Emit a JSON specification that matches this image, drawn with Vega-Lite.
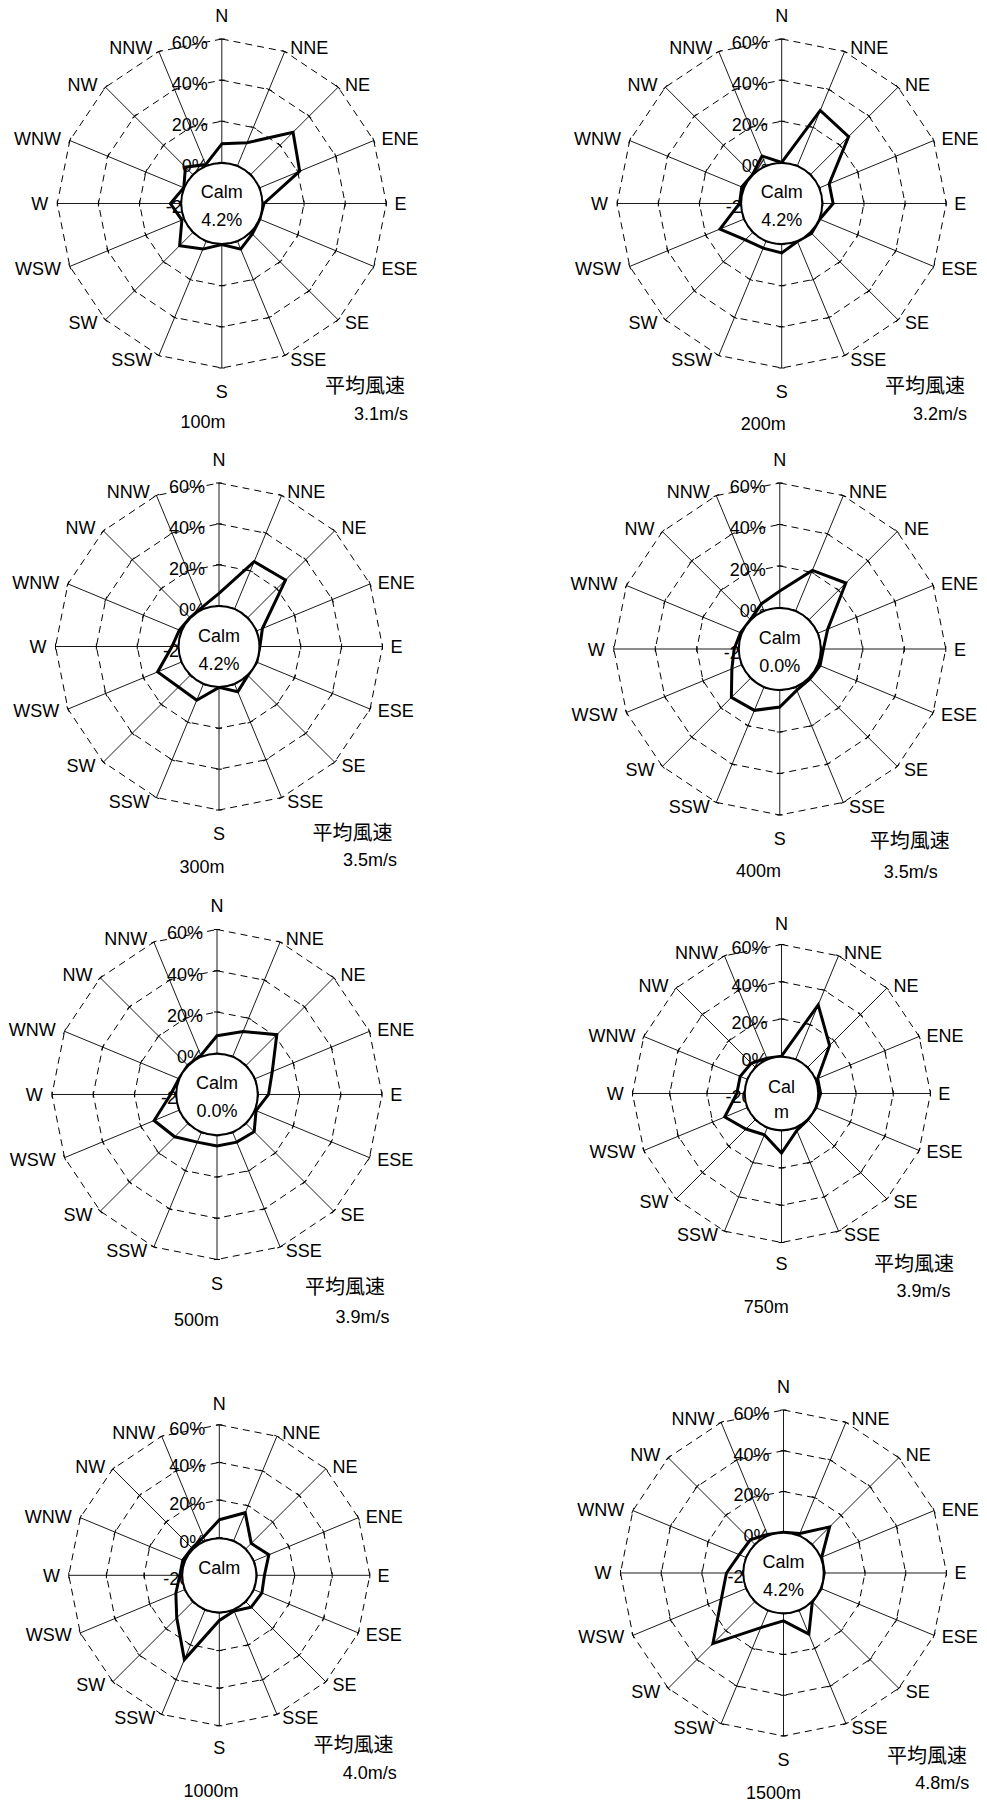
{
"$schema":"https://vega.github.io/schema/vega-lite/v6.json",
"padding":0,
"background":"white",
"config":{"view":{"stroke":null},"concat":{"spacing":0},"axis":{"disable":true},"text":{"font":"Liberation Sans","fontSize":18,"color":"#000"}},
"datasets":{
"dirs":[{"d":"N","i":0},{"d":"NNE","i":1},{"d":"NE","i":2},{"d":"ENE","i":3},{"d":"E","i":4},{"d":"ESE","i":5},{"d":"SE","i":6},{"d":"SSE","i":7},{"d":"S","i":8},{"d":"SSW","i":9},{"d":"SW","i":10},{"d":"WSW","i":11},{"d":"W","i":12},{"d":"WNW","i":13},{"d":"NW","i":14},{"d":"NNW","i":15}],
"ticks":[{"g":-20},{"g":0},{"g":20},{"g":40},{"g":60}],
"grid":[{"g":0,"i":0},{"g":0,"i":1},{"g":0,"i":2},{"g":0,"i":3},{"g":0,"i":4},{"g":0,"i":5},{"g":0,"i":6},{"g":0,"i":7},{"g":0,"i":8},{"g":0,"i":9},{"g":0,"i":10},{"g":0,"i":11},{"g":0,"i":12},{"g":0,"i":13},{"g":0,"i":14},{"g":0,"i":15},
{"g":20,"i":0},{"g":20,"i":1},{"g":20,"i":2},{"g":20,"i":3},{"g":20,"i":4},{"g":20,"i":5},{"g":20,"i":6},{"g":20,"i":7},{"g":20,"i":8},{"g":20,"i":9},{"g":20,"i":10},{"g":20,"i":11},{"g":20,"i":12},{"g":20,"i":13},{"g":20,"i":14},{"g":20,"i":15},
{"g":40,"i":0},{"g":40,"i":1},{"g":40,"i":2},{"g":40,"i":3},{"g":40,"i":4},{"g":40,"i":5},{"g":40,"i":6},{"g":40,"i":7},{"g":40,"i":8},{"g":40,"i":9},{"g":40,"i":10},{"g":40,"i":11},{"g":40,"i":12},{"g":40,"i":13},{"g":40,"i":14},{"g":40,"i":15},
{"g":60,"i":0},{"g":60,"i":1},{"g":60,"i":2},{"g":60,"i":3},{"g":60,"i":4},{"g":60,"i":5},{"g":60,"i":6},{"g":60,"i":7},{"g":60,"i":8},{"g":60,"i":9},{"g":60,"i":10},{"g":60,"i":11},{"g":60,"i":12},{"g":60,"i":13},{"g":60,"i":14},{"g":60,"i":15}],
"meta":[{"h":"100m","c1":"Calm","c2":"4.2%","ws":"3.1m/s"},{"h":"200m","c1":"Calm","c2":"4.2%","ws":"3.2m/s"},{"h":"300m","c1":"Calm","c2":"4.2%","ws":"3.5m/s"},{"h":"400m","c1":"Calm","c2":"0.0%","ws":"3.5m/s"},{"h":"500m","c1":"Calm","c2":"0.0%","ws":"3.9m/s"},{"h":"750m","c1":"Cal","c2":"m","ws":"3.9m/s"},{"h":"1000m","c1":"Calm","c2":"","ws":"4.0m/s"},{"h":"1500m","c1":"Calm","c2":"4.2%","ws":"4.8m/s"}],
"rose":[
{"h":"100m","d":"N","v":9},{"h":"100m","d":"NNE","v":12},{"h":"100m","d":"NE","v":29},{"h":"100m","d":"ENE","v":21},{"h":"100m","d":"E","v":0.5},{"h":"100m","d":"ESE","v":0},{"h":"100m","d":"SE","v":1},{"h":"100m","d":"SSE","v":4},{"h":"100m","d":"S","v":0},{"h":"100m","d":"SSW","v":4},{"h":"100m","d":"SW","v":9},{"h":"100m","d":"WSW","v":1},{"h":"100m","d":"W","v":5},{"h":"100m","d":"WNW","v":0},{"h":"100m","d":"NW","v":5},{"h":"100m","d":"NNW","v":0.5},
{"h":"200m","d":"N","v":0},{"h":"200m","d":"NNE","v":29},{"h":"200m","d":"NE","v":26},{"h":"200m","d":"ENE","v":5},{"h":"200m","d":"E","v":5},{"h":"200m","d":"ESE","v":0},{"h":"200m","d":"SE","v":0.5},{"h":"200m","d":"SSE","v":0},{"h":"200m","d":"S","v":4},{"h":"200m","d":"SSW","v":3.5},{"h":"200m","d":"SW","v":5},{"h":"200m","d":"WSW","v":12.5},{"h":"200m","d":"W","v":0.5},{"h":"200m","d":"WNW","v":1},{"h":"200m","d":"NW","v":0},{"h":"200m","d":"NNW","v":5},
{"h":"300m","d":"N","v":6},{"h":"300m","d":"NNE","v":25},{"h":"300m","d":"NE","v":26},{"h":"300m","d":"ENE","v":3},{"h":"300m","d":"E","v":0},{"h":"300m","d":"ESE","v":0},{"h":"300m","d":"SE","v":0},{"h":"300m","d":"SSE","v":4},{"h":"300m","d":"S","v":0},{"h":"300m","d":"SSW","v":8.5},{"h":"300m","d":"SW","v":8},{"h":"300m","d":"WSW","v":12.5},{"h":"300m","d":"W","v":3},{"h":"300m","d":"WNW","v":1},{"h":"300m","d":"NW","v":0},{"h":"300m","d":"NNW","v":1},
{"h":"400m","d":"N","v":8},{"h":"400m","d":"NNE","v":21},{"h":"400m","d":"NE","v":25},{"h":"400m","d":"ENE","v":5},{"h":"400m","d":"E","v":1},{"h":"400m","d":"ESE","v":1},{"h":"400m","d":"SE","v":0.5},{"h":"400m","d":"SSE","v":1.5},{"h":"400m","d":"S","v":8},{"h":"400m","d":"SSW","v":12},{"h":"400m","d":"SW","v":13},{"h":"400m","d":"WSW","v":5},{"h":"400m","d":"W","v":2},{"h":"400m","d":"WNW","v":0.5},{"h":"400m","d":"NW","v":0},{"h":"400m","d":"NNW","v":3.5},
{"h":"500m","d":"N","v":8.5},{"h":"500m","d":"NNE","v":13},{"h":"500m","d":"NE","v":21},{"h":"500m","d":"ENE","v":9},{"h":"500m","d":"E","v":5},{"h":"500m","d":"ESE","v":0.5},{"h":"500m","d":"SE","v":5.5},{"h":"500m","d":"SSE","v":5},{"h":"500m","d":"S","v":5},{"h":"500m","d":"SSW","v":5},{"h":"500m","d":"SW","v":9},{"h":"500m","d":"WSW","v":13},{"h":"500m","d":"W","v":2.5},{"h":"500m","d":"WNW","v":0},{"h":"500m","d":"NW","v":0},{"h":"500m","d":"NNW","v":0.5},
{"h":"750m","d":"N","v":0},{"h":"750m","d":"NNE","v":31.5},{"h":"750m","d":"NE","v":16.5},{"h":"750m","d":"ENE","v":1},{"h":"750m","d":"E","v":1},{"h":"750m","d":"ESE","v":0},{"h":"750m","d":"SE","v":0},{"h":"750m","d":"SSE","v":1.5},{"h":"750m","d":"S","v":12},{"h":"750m","d":"SSW","v":4},{"h":"750m","d":"SW","v":7},{"h":"750m","d":"WSW","v":13},{"h":"750m","d":"W","v":4},{"h":"750m","d":"WNW","v":4},{"h":"750m","d":"NW","v":3},{"h":"750m","d":"NNW","v":0.5},
{"h":"1000m","d":"N","v":9.5},{"h":"1000m","d":"NNE","v":16},{"h":"1000m","d":"NE","v":4},{"h":"1000m","d":"ENE","v":8.5},{"h":"1000m","d":"E","v":4},{"h":"1000m","d":"ESE","v":4.5},{"h":"1000m","d":"SE","v":4},{"h":"1000m","d":"SSE","v":0.5},{"h":"1000m","d":"S","v":4},{"h":"1000m","d":"SSW","v":28.5},{"h":"1000m","d":"SW","v":12},{"h":"1000m","d":"WSW","v":5},{"h":"1000m","d":"W","v":1},{"h":"1000m","d":"WNW","v":1},{"h":"1000m","d":"NW","v":0.5},{"h":"1000m","d":"NNW","v":2},
{"h":"1500m","d":"N","v":0},{"h":"1500m","d":"NNE","v":1},{"h":"1500m","d":"NE","v":12},{"h":"1500m","d":"ENE","v":0.3},{"h":"1500m","d":"E","v":0},{"h":"1500m","d":"ESE","v":0},{"h":"1500m","d":"SE","v":0},{"h":"1500m","d":"SSE","v":12.5},{"h":"1500m","d":"S","v":3.5},{"h":"1500m","d":"SSW","v":9},{"h":"1500m","d":"SW","v":29},{"h":"1500m","d":"WSW","v":13},{"h":"1500m","d":"W","v":8},{"h":"1500m","d":"WNW","v":3.5},{"h":"1500m","d":"NW","v":3},{"h":"1500m","d":"NNW","v":0.5}]
},
"vconcat":[
{"hconcat":[
{"width":494,"height":440,
"layer":[
{"data":{"name":"grid"},"transform":[{"calculate":"(datum.g+20)*sin(datum.i*PI/8)","as":"x"},{"calculate":"(datum.g+20)*cos(datum.i*PI/8)","as":"y"}],"mark":{"type":"line","interpolate":"linear-closed","stroke":"#000","strokeWidth":1,"strokeDash":[7,5]},"encoding":{"x":{"field":"x","type":"quantitative","scale":{"domain":[-107.87,132.38],"nice":false,"zero":false},"axis":null},"y":{"field":"y","type":"quantitative","scale":{"domain":[-115.02,98.97],"nice":false,"zero":false},"axis":null},"detail":{"field":"g"},"order":{"field":"i"}}},
{"data":{"name":"dirs"},"transform":[{"calculate":"80*sin(datum.i*PI/8)","as":"x"},{"calculate":"80*cos(datum.i*PI/8)","as":"y"}],"mark":{"type":"rule","stroke":"#000","strokeWidth":0.9},"encoding":{"x":{"field":"x","type":"quantitative"},"y":{"field":"y","type":"quantitative"},"x2":{"datum":0},"y2":{"datum":0}}},
{"data":{"name":"grid"},"transform":[{"calculate":"(datum.g+20)*sin(datum.i*PI/8)","as":"x"},{"calculate":"(datum.g+20)*cos(datum.i*PI/8)","as":"y"},{"calculate":"datum.i*22.5","as":"ang"}],"mark":{"type":"point","shape":"stroke","size":36,"strokeWidth":1,"color":"#000","opacity":1},"encoding":{"x":{"field":"x","type":"quantitative"},"y":{"field":"y","type":"quantitative"},"angle":{"field":"ang","type":"quantitative","scale":null}}},
{"data":{"name":"ticks"},"transform":[{"calculate":"datum.g+20","as":"y"},{"calculate":"datum.g+'%'","as":"lab"}],"mark":{"type":"text","align":"right","baseline":"middle","dx":-14,"dy":5},"encoding":{"x":{"datum":0,"type":"quantitative"},"y":{"field":"y","type":"quantitative"},"text":{"field":"lab"}}},
{"data":{"name":"rose"},"transform":[{"filter":"datum.h=='100m'"},{"lookup":"d","from":{"data":{"name":"dirs"},"key":"d","fields":["i"]}},{"calculate":"(datum.v+20)*sin(datum.i*PI/8)","as":"x"},{"calculate":"(datum.v+20)*cos(datum.i*PI/8)","as":"y"}],"mark":{"type":"line","interpolate":"linear-closed","stroke":"#000","strokeWidth":3,"strokeJoin":"miter"},"encoding":{"x":{"field":"x","type":"quantitative"},"y":{"field":"y","type":"quantitative"},"order":{"field":"i"}}},
{"data":{"name":"dirs"},"transform":[{"calculate":"82*sin(datum.i*PI/8)","as":"x"},{"calculate":"82*cos(datum.i*PI/8)","as":"y"}],"encoding":{"x":{"field":"x","type":"quantitative"},"y":{"field":"y","type":"quantitative"},"text":{"field":"d"}},"layer":[
{"transform":[{"filter":"datum.i>0 && datum.i<8"}],"mark":{"type":"text","align":"left","baseline":"middle","dx":4,"dy":1.5}},
{"transform":[{"filter":"datum.i>8"}],"mark":{"type":"text","align":"right","baseline":"middle","dx":-5,"dy":1.5}},
{"transform":[{"filter":"datum.i==0 || datum.i==8"},{"calculate":"91.5*cos(datum.i*PI/8)","as":"y"}],"mark":{"type":"text","align":"center","baseline":"middle","dy":1.5}}]},
{"data":{"name":"meta"},"transform":[{"filter":"datum.h=='100m'"}],"layer":[
{"mark":{"type":"point","shape":"circle","filled":true,"fill":"#fff","stroke":"#000","strokeWidth":2,"size":6590,"opacity":1},"encoding":{"x":{"datum":0,"type":"quantitative"},"y":{"datum":0,"type":"quantitative"}}},
{"mark":{"type":"text","dy":-10},"encoding":{"x":{"datum":0,"type":"quantitative"},"y":{"datum":0,"type":"quantitative"},"text":{"field":"c1"}}},
{"mark":{"type":"text","dy":18},"encoding":{"x":{"datum":0,"type":"quantitative"},"y":{"datum":0,"type":"quantitative"},"text":{"field":"c2"}}},
{"mark":{"type":"text"},"encoding":{"x":{"datum":-9.14,"type":"quantitative"},"y":{"datum":-106.7,"type":"quantitative"},"text":{"field":"h"}}},
{"mark":{"type":"text","font":"Noto Sans CJK JP","fontSize":20},"encoding":{"x":{"datum":69.6,"type":"quantitative"},"y":{"datum":-89.1,"type":"quantitative"},"text":{"value":"平均風速"}}},
{"mark":{"type":"text"},"encoding":{"x":{"datum":77.4,"type":"quantitative"},"y":{"datum":-102.9,"type":"quantitative"},"text":{"field":"ws"}}}]}
]},
{"width":493,"height":440,
"layer":[
{"data":{"name":"grid"},"transform":[{"calculate":"(datum.g+20)*sin(datum.i*PI/8)","as":"x"},{"calculate":"(datum.g+20)*cos(datum.i*PI/8)","as":"y"}],"mark":{"type":"line","interpolate":"linear-closed","stroke":"#000","strokeWidth":1,"strokeDash":[7,5]},"encoding":{"x":{"field":"x","type":"quantitative","scale":{"domain":[-139.91,99.84],"nice":false,"zero":false},"axis":null},"y":{"field":"y","type":"quantitative","scale":{"domain":[-115.02,98.97],"nice":false,"zero":false},"axis":null},"detail":{"field":"g"},"order":{"field":"i"}}},
{"data":{"name":"dirs"},"transform":[{"calculate":"80*sin(datum.i*PI/8)","as":"x"},{"calculate":"80*cos(datum.i*PI/8)","as":"y"}],"mark":{"type":"rule","stroke":"#000","strokeWidth":0.9},"encoding":{"x":{"field":"x","type":"quantitative"},"y":{"field":"y","type":"quantitative"},"x2":{"datum":0},"y2":{"datum":0}}},
{"data":{"name":"grid"},"transform":[{"calculate":"(datum.g+20)*sin(datum.i*PI/8)","as":"x"},{"calculate":"(datum.g+20)*cos(datum.i*PI/8)","as":"y"},{"calculate":"datum.i*22.5","as":"ang"}],"mark":{"type":"point","shape":"stroke","size":36,"strokeWidth":1,"color":"#000","opacity":1},"encoding":{"x":{"field":"x","type":"quantitative"},"y":{"field":"y","type":"quantitative"},"angle":{"field":"ang","type":"quantitative","scale":null}}},
{"data":{"name":"ticks"},"transform":[{"calculate":"datum.g+20","as":"y"},{"calculate":"datum.g+'%'","as":"lab"}],"mark":{"type":"text","align":"right","baseline":"middle","dx":-14,"dy":5},"encoding":{"x":{"datum":0,"type":"quantitative"},"y":{"field":"y","type":"quantitative"},"text":{"field":"lab"}}},
{"data":{"name":"rose"},"transform":[{"filter":"datum.h=='200m'"},{"lookup":"d","from":{"data":{"name":"dirs"},"key":"d","fields":["i"]}},{"calculate":"(datum.v+20)*sin(datum.i*PI/8)","as":"x"},{"calculate":"(datum.v+20)*cos(datum.i*PI/8)","as":"y"}],"mark":{"type":"line","interpolate":"linear-closed","stroke":"#000","strokeWidth":3,"strokeJoin":"miter"},"encoding":{"x":{"field":"x","type":"quantitative"},"y":{"field":"y","type":"quantitative"},"order":{"field":"i"}}},
{"data":{"name":"dirs"},"transform":[{"calculate":"82*sin(datum.i*PI/8)","as":"x"},{"calculate":"82*cos(datum.i*PI/8)","as":"y"}],"encoding":{"x":{"field":"x","type":"quantitative"},"y":{"field":"y","type":"quantitative"},"text":{"field":"d"}},"layer":[
{"transform":[{"filter":"datum.i>0 && datum.i<8"}],"mark":{"type":"text","align":"left","baseline":"middle","dx":4,"dy":1.5}},
{"transform":[{"filter":"datum.i>8"}],"mark":{"type":"text","align":"right","baseline":"middle","dx":-5,"dy":1.5}},
{"transform":[{"filter":"datum.i==0 || datum.i==8"},{"calculate":"91.5*cos(datum.i*PI/8)","as":"y"}],"mark":{"type":"text","align":"center","baseline":"middle","dy":1.5}}]},
{"data":{"name":"meta"},"transform":[{"filter":"datum.h=='200m'"}],"layer":[
{"mark":{"type":"point","shape":"circle","filled":true,"fill":"#fff","stroke":"#000","strokeWidth":2,"size":6590,"opacity":1},"encoding":{"x":{"datum":0,"type":"quantitative"},"y":{"datum":0,"type":"quantitative"}}},
{"mark":{"type":"text","dy":-10},"encoding":{"x":{"datum":0,"type":"quantitative"},"y":{"datum":0,"type":"quantitative"},"text":{"field":"c1"}}},
{"mark":{"type":"text","dy":18},"encoding":{"x":{"datum":0,"type":"quantitative"},"y":{"datum":0,"type":"quantitative"},"text":{"field":"c2"}}},
{"mark":{"type":"text"},"encoding":{"x":{"datum":-8.95,"type":"quantitative"},"y":{"datum":-107.7,"type":"quantitative"},"text":{"field":"h"}}},
{"mark":{"type":"text","font":"Noto Sans CJK JP","fontSize":20},"encoding":{"x":{"datum":69.7,"type":"quantitative"},"y":{"datum":-89.1,"type":"quantitative"},"text":{"value":"平均風速"}}},
{"mark":{"type":"text"},"encoding":{"x":{"datum":77.0,"type":"quantitative"},"y":{"datum":-102.7,"type":"quantitative"},"text":{"field":"ws"}}}]}
]}
]},
{"hconcat":[
{"width":494,"height":450,
"layer":[
{"data":{"name":"grid"},"transform":[{"calculate":"(datum.g+20)*sin(datum.i*PI/8)","as":"x"},{"calculate":"(datum.g+20)*cos(datum.i*PI/8)","as":"y"}],"mark":{"type":"line","interpolate":"linear-closed","stroke":"#000","strokeWidth":1,"strokeDash":[7,5]},"encoding":{"x":{"field":"x","type":"quantitative","scale":{"domain":[-107.16,134.56],"nice":false,"zero":false},"axis":null},"y":{"field":"y","type":"quantitative","scale":{"domain":[-119.14,101.04],"nice":false,"zero":false},"axis":null},"detail":{"field":"g"},"order":{"field":"i"}}},
{"data":{"name":"dirs"},"transform":[{"calculate":"80*sin(datum.i*PI/8)","as":"x"},{"calculate":"80*cos(datum.i*PI/8)","as":"y"}],"mark":{"type":"rule","stroke":"#000","strokeWidth":0.9},"encoding":{"x":{"field":"x","type":"quantitative"},"y":{"field":"y","type":"quantitative"},"x2":{"datum":0},"y2":{"datum":0}}},
{"data":{"name":"grid"},"transform":[{"calculate":"(datum.g+20)*sin(datum.i*PI/8)","as":"x"},{"calculate":"(datum.g+20)*cos(datum.i*PI/8)","as":"y"},{"calculate":"datum.i*22.5","as":"ang"}],"mark":{"type":"point","shape":"stroke","size":36,"strokeWidth":1,"color":"#000","opacity":1},"encoding":{"x":{"field":"x","type":"quantitative"},"y":{"field":"y","type":"quantitative"},"angle":{"field":"ang","type":"quantitative","scale":null}}},
{"data":{"name":"ticks"},"transform":[{"calculate":"datum.g+20","as":"y"},{"calculate":"datum.g+'%'","as":"lab"}],"mark":{"type":"text","align":"right","baseline":"middle","dx":-14,"dy":5},"encoding":{"x":{"datum":0,"type":"quantitative"},"y":{"field":"y","type":"quantitative"},"text":{"field":"lab"}}},
{"data":{"name":"rose"},"transform":[{"filter":"datum.h=='300m'"},{"lookup":"d","from":{"data":{"name":"dirs"},"key":"d","fields":["i"]}},{"calculate":"(datum.v+20)*sin(datum.i*PI/8)","as":"x"},{"calculate":"(datum.v+20)*cos(datum.i*PI/8)","as":"y"}],"mark":{"type":"line","interpolate":"linear-closed","stroke":"#000","strokeWidth":3,"strokeJoin":"miter"},"encoding":{"x":{"field":"x","type":"quantitative"},"y":{"field":"y","type":"quantitative"},"order":{"field":"i"}}},
{"data":{"name":"dirs"},"transform":[{"calculate":"82*sin(datum.i*PI/8)","as":"x"},{"calculate":"82*cos(datum.i*PI/8)","as":"y"}],"encoding":{"x":{"field":"x","type":"quantitative"},"y":{"field":"y","type":"quantitative"},"text":{"field":"d"}},"layer":[
{"transform":[{"filter":"datum.i>0 && datum.i<8"}],"mark":{"type":"text","align":"left","baseline":"middle","dx":4,"dy":1.5}},
{"transform":[{"filter":"datum.i>8"}],"mark":{"type":"text","align":"right","baseline":"middle","dx":-5,"dy":1.5}},
{"transform":[{"filter":"datum.i==0 || datum.i==8"},{"calculate":"91.5*cos(datum.i*PI/8)","as":"y"}],"mark":{"type":"text","align":"center","baseline":"middle","dy":1.5}}]},
{"data":{"name":"meta"},"transform":[{"filter":"datum.h=='300m'"}],"layer":[
{"mark":{"type":"point","shape":"circle","filled":true,"fill":"#fff","stroke":"#000","strokeWidth":2,"size":6530,"opacity":1},"encoding":{"x":{"datum":0,"type":"quantitative"},"y":{"datum":0,"type":"quantitative"}}},
{"mark":{"type":"text","dy":-10},"encoding":{"x":{"datum":0,"type":"quantitative"},"y":{"datum":0,"type":"quantitative"},"text":{"field":"c1"}}},
{"mark":{"type":"text","dy":18},"encoding":{"x":{"datum":0,"type":"quantitative"},"y":{"datum":0,"type":"quantitative"},"text":{"field":"c2"}}},
{"mark":{"type":"text"},"encoding":{"x":{"datum":-8.3,"type":"quantitative"},"y":{"datum":-108.4,"type":"quantitative"},"text":{"field":"h"}}},
{"mark":{"type":"text","font":"Noto Sans CJK JP","fontSize":20},"encoding":{"x":{"datum":65.3,"type":"quantitative"},"y":{"datum":-91.7,"type":"quantitative"},"text":{"value":"平均風速"}}},
{"mark":{"type":"text"},"encoding":{"x":{"datum":73.9,"type":"quantitative"},"y":{"datum":-105.0,"type":"quantitative"},"text":{"field":"ws"}}}]}
]},
{"width":493,"height":450,
"layer":[
{"data":{"name":"grid"},"transform":[{"calculate":"(datum.g+20)*sin(datum.i*PI/8)","as":"x"},{"calculate":"(datum.g+20)*cos(datum.i*PI/8)","as":"y"}],"mark":{"type":"line","interpolate":"linear-closed","stroke":"#000","strokeWidth":1,"strokeDash":[7,5]},"encoding":{"x":{"field":"x","type":"quantitative","scale":{"domain":[-137.73,99.86],"nice":false,"zero":false},"axis":null},"y":{"field":"y","type":"quantitative","scale":{"domain":[-116.14,100.72],"nice":false,"zero":false},"axis":null},"detail":{"field":"g"},"order":{"field":"i"}}},
{"data":{"name":"dirs"},"transform":[{"calculate":"80*sin(datum.i*PI/8)","as":"x"},{"calculate":"80*cos(datum.i*PI/8)","as":"y"}],"mark":{"type":"rule","stroke":"#000","strokeWidth":0.9},"encoding":{"x":{"field":"x","type":"quantitative"},"y":{"field":"y","type":"quantitative"},"x2":{"datum":0},"y2":{"datum":0}}},
{"data":{"name":"grid"},"transform":[{"calculate":"(datum.g+20)*sin(datum.i*PI/8)","as":"x"},{"calculate":"(datum.g+20)*cos(datum.i*PI/8)","as":"y"},{"calculate":"datum.i*22.5","as":"ang"}],"mark":{"type":"point","shape":"stroke","size":36,"strokeWidth":1,"color":"#000","opacity":1},"encoding":{"x":{"field":"x","type":"quantitative"},"y":{"field":"y","type":"quantitative"},"angle":{"field":"ang","type":"quantitative","scale":null}}},
{"data":{"name":"ticks"},"transform":[{"calculate":"datum.g+20","as":"y"},{"calculate":"datum.g+'%'","as":"lab"}],"mark":{"type":"text","align":"right","baseline":"middle","dx":-14,"dy":5},"encoding":{"x":{"datum":0,"type":"quantitative"},"y":{"field":"y","type":"quantitative"},"text":{"field":"lab"}}},
{"data":{"name":"rose"},"transform":[{"filter":"datum.h=='400m'"},{"lookup":"d","from":{"data":{"name":"dirs"},"key":"d","fields":["i"]}},{"calculate":"(datum.v+20)*sin(datum.i*PI/8)","as":"x"},{"calculate":"(datum.v+20)*cos(datum.i*PI/8)","as":"y"}],"mark":{"type":"line","interpolate":"linear-closed","stroke":"#000","strokeWidth":3,"strokeJoin":"miter"},"encoding":{"x":{"field":"x","type":"quantitative"},"y":{"field":"y","type":"quantitative"},"order":{"field":"i"}}},
{"data":{"name":"dirs"},"transform":[{"calculate":"82*sin(datum.i*PI/8)","as":"x"},{"calculate":"82*cos(datum.i*PI/8)","as":"y"}],"encoding":{"x":{"field":"x","type":"quantitative"},"y":{"field":"y","type":"quantitative"},"text":{"field":"d"}},"layer":[
{"transform":[{"filter":"datum.i>0 && datum.i<8"}],"mark":{"type":"text","align":"left","baseline":"middle","dx":4,"dy":1.5}},
{"transform":[{"filter":"datum.i>8"}],"mark":{"type":"text","align":"right","baseline":"middle","dx":-5,"dy":1.5}},
{"transform":[{"filter":"datum.i==0 || datum.i==8"},{"calculate":"91.5*cos(datum.i*PI/8)","as":"y"}],"mark":{"type":"text","align":"center","baseline":"middle","dy":1.5}}]},
{"data":{"name":"meta"},"transform":[{"filter":"datum.h=='400m'"}],"layer":[
{"mark":{"type":"point","shape":"circle","filled":true,"fill":"#fff","stroke":"#000","strokeWidth":2,"size":6720,"opacity":1},"encoding":{"x":{"datum":0,"type":"quantitative"},"y":{"datum":0,"type":"quantitative"}}},
{"mark":{"type":"text","dy":-10},"encoding":{"x":{"datum":0,"type":"quantitative"},"y":{"datum":0,"type":"quantitative"},"text":{"field":"c1"}}},
{"mark":{"type":"text","dy":18},"encoding":{"x":{"datum":0,"type":"quantitative"},"y":{"datum":0,"type":"quantitative"},"text":{"field":"c2"}}},
{"mark":{"type":"text"},"encoding":{"x":{"datum":-10.3,"type":"quantitative"},"y":{"datum":-107.7,"type":"quantitative"},"text":{"field":"h"}}},
{"mark":{"type":"text","font":"Noto Sans CJK JP","fontSize":20},"encoding":{"x":{"datum":62.6,"type":"quantitative"},"y":{"datum":-92.9,"type":"quantitative"},"text":{"value":"平均風速"}}},
{"mark":{"type":"text"},"encoding":{"x":{"datum":63.1,"type":"quantitative"},"y":{"datum":-108.0,"type":"quantitative"},"text":{"field":"ws"}}}]}
]}
]},
{"hconcat":[
{"width":494,"height":470,
"layer":[
{"data":{"name":"grid"},"transform":[{"calculate":"(datum.g+20)*sin(datum.i*PI/8)","as":"x"},{"calculate":"(datum.g+20)*cos(datum.i*PI/8)","as":"y"}],"mark":{"type":"line","interpolate":"linear-closed","stroke":"#000","strokeWidth":1,"strokeDash":[7,5]},"encoding":{"x":{"field":"x","type":"quantitative","scale":{"domain":[-105.21,134.30],"nice":false,"zero":false},"axis":null},"y":{"field":"y","type":"quantitative","scale":{"domain":[-128.73,99.15],"nice":false,"zero":false},"axis":null},"detail":{"field":"g"},"order":{"field":"i"}}},
{"data":{"name":"dirs"},"transform":[{"calculate":"80*sin(datum.i*PI/8)","as":"x"},{"calculate":"80*cos(datum.i*PI/8)","as":"y"}],"mark":{"type":"rule","stroke":"#000","strokeWidth":0.9},"encoding":{"x":{"field":"x","type":"quantitative"},"y":{"field":"y","type":"quantitative"},"x2":{"datum":0},"y2":{"datum":0}}},
{"data":{"name":"grid"},"transform":[{"calculate":"(datum.g+20)*sin(datum.i*PI/8)","as":"x"},{"calculate":"(datum.g+20)*cos(datum.i*PI/8)","as":"y"},{"calculate":"datum.i*22.5","as":"ang"}],"mark":{"type":"point","shape":"stroke","size":36,"strokeWidth":1,"color":"#000","opacity":1},"encoding":{"x":{"field":"x","type":"quantitative"},"y":{"field":"y","type":"quantitative"},"angle":{"field":"ang","type":"quantitative","scale":null}}},
{"data":{"name":"ticks"},"transform":[{"calculate":"datum.g+20","as":"y"},{"calculate":"datum.g+'%'","as":"lab"}],"mark":{"type":"text","align":"right","baseline":"middle","dx":-14,"dy":5},"encoding":{"x":{"datum":0,"type":"quantitative"},"y":{"field":"y","type":"quantitative"},"text":{"field":"lab"}}},
{"data":{"name":"rose"},"transform":[{"filter":"datum.h=='500m'"},{"lookup":"d","from":{"data":{"name":"dirs"},"key":"d","fields":["i"]}},{"calculate":"(datum.v+20)*sin(datum.i*PI/8)","as":"x"},{"calculate":"(datum.v+20)*cos(datum.i*PI/8)","as":"y"}],"mark":{"type":"line","interpolate":"linear-closed","stroke":"#000","strokeWidth":3,"strokeJoin":"miter"},"encoding":{"x":{"field":"x","type":"quantitative"},"y":{"field":"y","type":"quantitative"},"order":{"field":"i"}}},
{"data":{"name":"dirs"},"transform":[{"calculate":"82*sin(datum.i*PI/8)","as":"x"},{"calculate":"82*cos(datum.i*PI/8)","as":"y"}],"encoding":{"x":{"field":"x","type":"quantitative"},"y":{"field":"y","type":"quantitative"},"text":{"field":"d"}},"layer":[
{"transform":[{"filter":"datum.i>0 && datum.i<8"}],"mark":{"type":"text","align":"left","baseline":"middle","dx":4,"dy":1.5}},
{"transform":[{"filter":"datum.i>8"}],"mark":{"type":"text","align":"right","baseline":"middle","dx":-5,"dy":1.5}},
{"transform":[{"filter":"datum.i==0 || datum.i==8"},{"calculate":"91.5*cos(datum.i*PI/8)","as":"y"}],"mark":{"type":"text","align":"center","baseline":"middle","dy":1.5}}]},
{"data":{"name":"meta"},"transform":[{"filter":"datum.h=='500m'"}],"layer":[
{"mark":{"type":"point","shape":"circle","filled":true,"fill":"#fff","stroke":"#000","strokeWidth":2,"size":6640,"opacity":1},"encoding":{"x":{"datum":0,"type":"quantitative"},"y":{"datum":0,"type":"quantitative"}}},
{"mark":{"type":"text","dy":-10},"encoding":{"x":{"datum":0,"type":"quantitative"},"y":{"datum":0,"type":"quantitative"},"text":{"field":"c1"}}},
{"mark":{"type":"text","dy":18},"encoding":{"x":{"datum":0,"type":"quantitative"},"y":{"datum":0,"type":"quantitative"},"text":{"field":"c2"}}},
{"mark":{"type":"text"},"encoding":{"x":{"datum":-9.9,"type":"quantitative"},"y":{"datum":-109.6,"type":"quantitative"},"text":{"field":"h"}}},
{"mark":{"type":"text","font":"Noto Sans CJK JP","fontSize":20},"encoding":{"x":{"datum":62.1,"type":"quantitative"},"y":{"datum":-93.8,"type":"quantitative"},"text":{"value":"平均風速"}}},
{"mark":{"type":"text"},"encoding":{"x":{"datum":70.5,"type":"quantitative"},"y":{"datum":-108.2,"type":"quantitative"},"text":{"field":"ws"}}}]}
]},
{"width":493,"height":470,
"layer":[
{"data":{"name":"grid"},"transform":[{"calculate":"(datum.g+20)*sin(datum.i*PI/8)","as":"x"},{"calculate":"(datum.g+20)*cos(datum.i*PI/8)","as":"y"}],"mark":{"type":"line","interpolate":"linear-closed","stroke":"#000","strokeWidth":1,"strokeDash":[7,5]},"encoding":{"x":{"field":"x","type":"quantitative","scale":{"domain":[-154.36,110.34],"nice":false,"zero":false},"axis":null},"y":{"field":"y","type":"quantitative","scale":{"domain":[-143.09,109.26],"nice":false,"zero":false},"axis":null},"detail":{"field":"g"},"order":{"field":"i"}}},
{"data":{"name":"dirs"},"transform":[{"calculate":"80*sin(datum.i*PI/8)","as":"x"},{"calculate":"80*cos(datum.i*PI/8)","as":"y"}],"mark":{"type":"rule","stroke":"#000","strokeWidth":0.9},"encoding":{"x":{"field":"x","type":"quantitative"},"y":{"field":"y","type":"quantitative"},"x2":{"datum":0},"y2":{"datum":0}}},
{"data":{"name":"grid"},"transform":[{"calculate":"(datum.g+20)*sin(datum.i*PI/8)","as":"x"},{"calculate":"(datum.g+20)*cos(datum.i*PI/8)","as":"y"},{"calculate":"datum.i*22.5","as":"ang"}],"mark":{"type":"point","shape":"stroke","size":36,"strokeWidth":1,"color":"#000","opacity":1},"encoding":{"x":{"field":"x","type":"quantitative"},"y":{"field":"y","type":"quantitative"},"angle":{"field":"ang","type":"quantitative","scale":null}}},
{"data":{"name":"ticks"},"transform":[{"calculate":"datum.g+20","as":"y"},{"calculate":"datum.g+'%'","as":"lab"}],"mark":{"type":"text","align":"right","baseline":"middle","dx":-14,"dy":5},"encoding":{"x":{"datum":0,"type":"quantitative"},"y":{"field":"y","type":"quantitative"},"text":{"field":"lab"}}},
{"data":{"name":"rose"},"transform":[{"filter":"datum.h=='750m'"},{"lookup":"d","from":{"data":{"name":"dirs"},"key":"d","fields":["i"]}},{"calculate":"(datum.v+20)*sin(datum.i*PI/8)","as":"x"},{"calculate":"(datum.v+20)*cos(datum.i*PI/8)","as":"y"}],"mark":{"type":"line","interpolate":"linear-closed","stroke":"#000","strokeWidth":3,"strokeJoin":"miter"},"encoding":{"x":{"field":"x","type":"quantitative"},"y":{"field":"y","type":"quantitative"},"order":{"field":"i"}}},
{"data":{"name":"dirs"},"transform":[{"calculate":"82*sin(datum.i*PI/8)","as":"x"},{"calculate":"82*cos(datum.i*PI/8)","as":"y"}],"encoding":{"x":{"field":"x","type":"quantitative"},"y":{"field":"y","type":"quantitative"},"text":{"field":"d"}},"layer":[
{"transform":[{"filter":"datum.i>0 && datum.i<8"}],"mark":{"type":"text","align":"left","baseline":"middle","dx":4,"dy":1.5}},
{"transform":[{"filter":"datum.i>8"}],"mark":{"type":"text","align":"right","baseline":"middle","dx":-5,"dy":1.5}},
{"transform":[{"filter":"datum.i==0 || datum.i==8"},{"calculate":"91.5*cos(datum.i*PI/8)","as":"y"}],"mark":{"type":"text","align":"center","baseline":"middle","dy":1.5}}]},
{"data":{"name":"meta"},"transform":[{"filter":"datum.h=='750m'"}],"layer":[
{"mark":{"type":"point","shape":"circle","filled":true,"fill":"#fff","stroke":"#000","strokeWidth":2,"size":5400,"opacity":1},"encoding":{"x":{"datum":0,"type":"quantitative"},"y":{"datum":0,"type":"quantitative"}}},
{"mark":{"type":"text","dy":-5},"encoding":{"x":{"datum":0,"type":"quantitative"},"y":{"datum":0,"type":"quantitative"},"text":{"field":"c1"}}},
{"mark":{"type":"text","dy":20},"encoding":{"x":{"datum":0,"type":"quantitative"},"y":{"datum":0,"type":"quantitative"},"text":{"field":"c2"}}},
{"mark":{"type":"text"},"encoding":{"x":{"datum":-8.2,"type":"quantitative"},"y":{"datum":-115.3,"type":"quantitative"},"text":{"field":"h"}}},
{"mark":{"type":"text","font":"Noto Sans CJK JP","fontSize":20},"encoding":{"x":{"datum":71.2,"type":"quantitative"},"y":{"datum":-92.0,"type":"quantitative"},"text":{"value":"平均風速"}}},
{"mark":{"type":"text"},"encoding":{"x":{"datum":76.2,"type":"quantitative"},"y":{"datum":-106.8,"type":"quantitative"},"text":{"field":"ws"}}}]}
]}
]},
{"hconcat":[
{"width":494,"height":445,
"layer":[
{"data":{"name":"grid"},"transform":[{"calculate":"(datum.g+20)*sin(datum.i*PI/8)","as":"x"},{"calculate":"(datum.g+20)*cos(datum.i*PI/8)","as":"y"}],"mark":{"type":"line","interpolate":"linear-closed","stroke":"#000","strokeWidth":1,"strokeDash":[7,5]},"encoding":{"x":{"field":"x","type":"quantitative","scale":{"domain":[-116.57,146.02],"nice":false,"zero":false},"axis":null},"y":{"field":"y","type":"quantitative","scale":{"domain":[-122.10,114.45],"nice":false,"zero":false},"axis":null},"detail":{"field":"g"},"order":{"field":"i"}}},
{"data":{"name":"dirs"},"transform":[{"calculate":"80*sin(datum.i*PI/8)","as":"x"},{"calculate":"80*cos(datum.i*PI/8)","as":"y"}],"mark":{"type":"rule","stroke":"#000","strokeWidth":0.9},"encoding":{"x":{"field":"x","type":"quantitative"},"y":{"field":"y","type":"quantitative"},"x2":{"datum":0},"y2":{"datum":0}}},
{"data":{"name":"grid"},"transform":[{"calculate":"(datum.g+20)*sin(datum.i*PI/8)","as":"x"},{"calculate":"(datum.g+20)*cos(datum.i*PI/8)","as":"y"},{"calculate":"datum.i*22.5","as":"ang"}],"mark":{"type":"point","shape":"stroke","size":36,"strokeWidth":1,"color":"#000","opacity":1},"encoding":{"x":{"field":"x","type":"quantitative"},"y":{"field":"y","type":"quantitative"},"angle":{"field":"ang","type":"quantitative","scale":null}}},
{"data":{"name":"ticks"},"transform":[{"calculate":"datum.g+20","as":"y"},{"calculate":"datum.g+'%'","as":"lab"}],"mark":{"type":"text","align":"right","baseline":"middle","dx":-14,"dy":5},"encoding":{"x":{"datum":0,"type":"quantitative"},"y":{"field":"y","type":"quantitative"},"text":{"field":"lab"}}},
{"data":{"name":"rose"},"transform":[{"filter":"datum.h=='1000m'"},{"lookup":"d","from":{"data":{"name":"dirs"},"key":"d","fields":["i"]}},{"calculate":"(datum.v+20)*sin(datum.i*PI/8)","as":"x"},{"calculate":"(datum.v+20)*cos(datum.i*PI/8)","as":"y"}],"mark":{"type":"line","interpolate":"linear-closed","stroke":"#000","strokeWidth":3,"strokeJoin":"miter"},"encoding":{"x":{"field":"x","type":"quantitative"},"y":{"field":"y","type":"quantitative"},"order":{"field":"i"}}},
{"data":{"name":"dirs"},"transform":[{"calculate":"82*sin(datum.i*PI/8)","as":"x"},{"calculate":"82*cos(datum.i*PI/8)","as":"y"}],"encoding":{"x":{"field":"x","type":"quantitative"},"y":{"field":"y","type":"quantitative"},"text":{"field":"d"}},"layer":[
{"transform":[{"filter":"datum.i>0 && datum.i<8"}],"mark":{"type":"text","align":"left","baseline":"middle","dx":4,"dy":1.5}},
{"transform":[{"filter":"datum.i>8"}],"mark":{"type":"text","align":"right","baseline":"middle","dx":-5,"dy":1.5}},
{"transform":[{"filter":"datum.i==0 || datum.i==8"},{"calculate":"91.5*cos(datum.i*PI/8)","as":"y"}],"mark":{"type":"text","align":"center","baseline":"middle","dy":1.5}}]},
{"data":{"name":"meta"},"transform":[{"filter":"datum.h=='1000m'"}],"layer":[
{"mark":{"type":"point","shape":"circle","filled":true,"fill":"#fff","stroke":"#000","strokeWidth":2,"size":5500,"opacity":1},"encoding":{"x":{"datum":0,"type":"quantitative"},"y":{"datum":0,"type":"quantitative"}}},
{"mark":{"type":"text","dy":-6},"encoding":{"x":{"datum":0,"type":"quantitative"},"y":{"datum":0,"type":"quantitative"},"text":{"field":"c1"}}},
{"mark":{"type":"text","dy":18},"encoding":{"x":{"datum":0,"type":"quantitative"},"y":{"datum":0,"type":"quantitative"},"text":{"field":"c2"}}},
{"mark":{"type":"text"},"encoding":{"x":{"datum":-4.4,"type":"quantitative"},"y":{"datum":-115.1,"type":"quantitative"},"text":{"field":"h"}}},
{"mark":{"type":"text","font":"Noto Sans CJK JP","fontSize":20},"encoding":{"x":{"datum":71.3,"type":"quantitative"},"y":{"datum":-90.9,"type":"quantitative"},"text":{"value":"平均風速"}}},
{"mark":{"type":"text"},"encoding":{"x":{"datum":80.0,"type":"quantitative"},"y":{"datum":-105.8,"type":"quantitative"},"text":{"field":"ws"}}}]}
]},
{"width":493,"height":445,
"layer":[
{"data":{"name":"grid"},"transform":[{"calculate":"(datum.g+20)*sin(datum.i*PI/8)","as":"x"},{"calculate":"(datum.g+20)*cos(datum.i*PI/8)","as":"y"}],"mark":{"type":"line","interpolate":"linear-closed","stroke":"#000","strokeWidth":1,"strokeDash":[7,5]},"encoding":{"x":{"field":"x","type":"quantitative","scale":{"domain":[-142.09,99.88],"nice":false,"zero":false},"axis":null},"y":{"field":"y","type":"quantitative","scale":{"domain":[-113.87,104.54],"nice":false,"zero":false},"axis":null},"detail":{"field":"g"},"order":{"field":"i"}}},
{"data":{"name":"dirs"},"transform":[{"calculate":"80*sin(datum.i*PI/8)","as":"x"},{"calculate":"80*cos(datum.i*PI/8)","as":"y"}],"mark":{"type":"rule","stroke":"#000","strokeWidth":0.9},"encoding":{"x":{"field":"x","type":"quantitative"},"y":{"field":"y","type":"quantitative"},"x2":{"datum":0},"y2":{"datum":0}}},
{"data":{"name":"grid"},"transform":[{"calculate":"(datum.g+20)*sin(datum.i*PI/8)","as":"x"},{"calculate":"(datum.g+20)*cos(datum.i*PI/8)","as":"y"},{"calculate":"datum.i*22.5","as":"ang"}],"mark":{"type":"point","shape":"stroke","size":36,"strokeWidth":1,"color":"#000","opacity":1},"encoding":{"x":{"field":"x","type":"quantitative"},"y":{"field":"y","type":"quantitative"},"angle":{"field":"ang","type":"quantitative","scale":null}}},
{"data":{"name":"ticks"},"transform":[{"calculate":"datum.g+20","as":"y"},{"calculate":"datum.g+'%'","as":"lab"}],"mark":{"type":"text","align":"right","baseline":"middle","dx":-14,"dy":5},"encoding":{"x":{"datum":0,"type":"quantitative"},"y":{"field":"y","type":"quantitative"},"text":{"field":"lab"}}},
{"data":{"name":"rose"},"transform":[{"filter":"datum.h=='1500m'"},{"lookup":"d","from":{"data":{"name":"dirs"},"key":"d","fields":["i"]}},{"calculate":"(datum.v+20)*sin(datum.i*PI/8)","as":"x"},{"calculate":"(datum.v+20)*cos(datum.i*PI/8)","as":"y"}],"mark":{"type":"line","interpolate":"linear-closed","stroke":"#000","strokeWidth":3,"strokeJoin":"miter"},"encoding":{"x":{"field":"x","type":"quantitative"},"y":{"field":"y","type":"quantitative"},"order":{"field":"i"}}},
{"data":{"name":"dirs"},"transform":[{"calculate":"82*sin(datum.i*PI/8)","as":"x"},{"calculate":"82*cos(datum.i*PI/8)","as":"y"}],"encoding":{"x":{"field":"x","type":"quantitative"},"y":{"field":"y","type":"quantitative"},"text":{"field":"d"}},"layer":[
{"transform":[{"filter":"datum.i>0 && datum.i<8"}],"mark":{"type":"text","align":"left","baseline":"middle","dx":4,"dy":1.5}},
{"transform":[{"filter":"datum.i>8"}],"mark":{"type":"text","align":"right","baseline":"middle","dx":-5,"dy":1.5}},
{"transform":[{"filter":"datum.i==0 || datum.i==8"},{"calculate":"91.5*cos(datum.i*PI/8)","as":"y"}],"mark":{"type":"text","align":"center","baseline":"middle","dy":1.5}}]},
{"data":{"name":"meta"},"transform":[{"filter":"datum.h=='1500m'"}],"layer":[
{"mark":{"type":"point","shape":"circle","filled":true,"fill":"#fff","stroke":"#000","strokeWidth":2,"size":6480,"opacity":1},"encoding":{"x":{"datum":0,"type":"quantitative"},"y":{"datum":0,"type":"quantitative"}}},
{"mark":{"type":"text","dy":-10},"encoding":{"x":{"datum":0,"type":"quantitative"},"y":{"datum":0,"type":"quantitative"},"text":{"field":"c1"}}},
{"mark":{"type":"text","dy":18},"encoding":{"x":{"datum":0,"type":"quantitative"},"y":{"datum":0,"type":"quantitative"},"text":{"field":"c2"}}},
{"mark":{"type":"text"},"encoding":{"x":{"datum":-4.9,"type":"quantitative"},"y":{"datum":-108.4,"type":"quantitative"},"text":{"field":"h"}}},
{"mark":{"type":"text","font":"Noto Sans CJK JP","fontSize":20},"encoding":{"x":{"datum":70.4,"type":"quantitative"},"y":{"datum":-90.1,"type":"quantitative"},"text":{"value":"平均風速"}}},
{"mark":{"type":"text"},"encoding":{"x":{"datum":77.9,"type":"quantitative"},"y":{"datum":-103.8,"type":"quantitative"},"text":{"field":"ws"}}}]}
]}
]}
]
}
